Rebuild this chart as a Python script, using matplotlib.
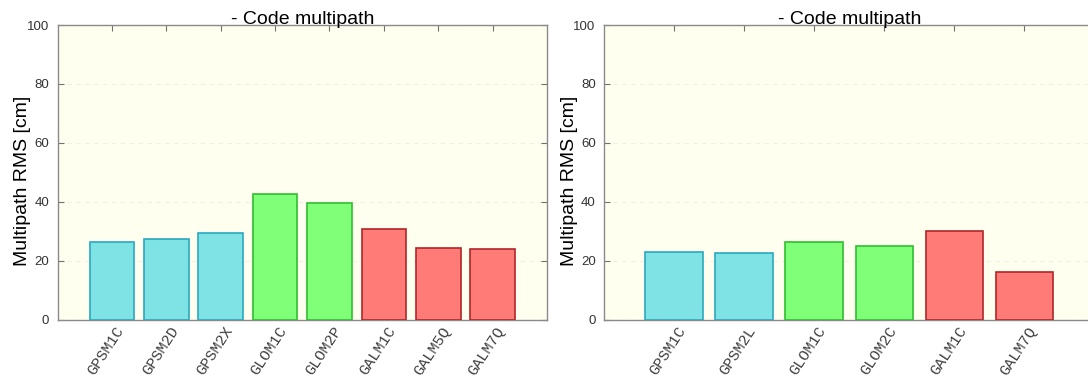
import numpy as np
import matplotlib
matplotlib.use("Agg")
import matplotlib.pyplot as plt
import matplotlib.transforms as mtransforms

plt.rcParams['font.family'] = ['Liberation Sans', 'DejaVu Sans']

# Code multipath RMS per signal (cm), two stations
signals_a = ['GPSM1C', 'GPSM2D', 'GPSM2X', 'GLOM1C', 'GLOM2P', 'GALM1C', 'GALM5Q', 'GALM7Q']
rms_a = [26.2, 27.4, 29.4, 42.6, 39.7, 30.8, 24.4, 24.0]

signals_b = ['GPSM1C', 'GPSM2L', 'GLOM1C', 'GLOM2C', 'GALM1C', 'GALM7Q']
rms_b = [22.9, 22.5, 26.2, 25.0, 29.9, 16.2]

title = '- Code multipath'
ylabel = 'Multipath RMS [cm]'
yticks = [0, 20, 40, 60, 80, 100]

# constellation colours (fill, edge)
sys_colors = {
    'GPS': ('#7fe3e6', '#2aa9bd'),
    'GLO': ('#80ff78', '#2fbf2f'),
    'GAL': ('#ff7b78', '#b0262a'),
}


def draw_panel(ax, names, values):
    x = np.arange(len(names))
    fills = [sys_colors[n[:3]][0] for n in names]
    edges = [sys_colors[n[:3]][1] for n in names]
    ax.set_facecolor('#fffff0')
    ax.bar(x, values, width=0.82, color=fills, edgecolor=edges, linewidth=1.2, zorder=3)
    ax.set_xlim(-1, len(names))
    ax.set_ylim(0, 100)
    ax.set_yticks(yticks)
    ax.set_xticks(x)
    ax.yaxis.grid(True, linestyle=(0, (4, 4)), color='#f0f0e0', linewidth=0.8, zorder=0)
    ax.tick_params(axis='both', direction='in', length=4, width=0.8, color='#707070',
                   top=True, right=True, labelsize=9.5, labelcolor='#333333')
    ax.tick_params(axis='y', pad=6)
    for sp in ax.spines.values():
        sp.set_color('#8a8a8a')
        sp.set_linewidth(1.0)
    offset = mtransforms.ScaledTranslation(3 / 100, 0, ax.figure.dpi_scale_trans)
    ax.set_xticklabels(names, rotation=57, ha='right', va='top', rotation_mode='anchor',
                       family='Liberation Mono', fontsize=11, color='#404040')
    for lab in ax.get_xticklabels():
        lab.set_transform(lab.get_transform() + offset)
    ax.set_title(title, fontsize=14, pad=1)
    ax.set_ylabel(ylabel, fontsize=14)
    ax.yaxis.set_label_coords(-0.054, 0.47)


fig = plt.figure(figsize=(10.88, 3.89), dpi=100)
ax1 = fig.add_axes([57.5 / 1088, 69.5 / 389, 489.5 / 1088, 294.5 / 389])
ax2 = fig.add_axes([604 / 1088, 69.5 / 389, 490.5 / 1088, 294.5 / 389])

draw_panel(ax1, signals_a, rms_a)
draw_panel(ax2, signals_b, rms_b)

fig.savefig('out.png', dpi=100, facecolor='w')
plt.close(fig)
